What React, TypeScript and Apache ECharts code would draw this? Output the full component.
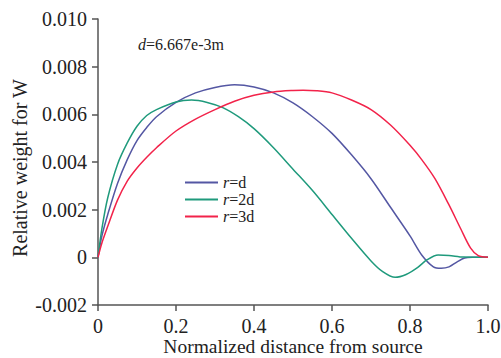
import React, { useEffect, useRef } from "react";
import * as echarts from "echarts";

const seriesNames = ["r=d", "r=2d", "r=3d"];
const seriesColors = ["#5457a3", "#1f9a7c", "#f2234a"];

const rD: [number, number][] = [
  [0, 0], [0.01, 0.0009], [0.025, 0.0018], [0.05, 0.0031], [0.075, 0.0041],
  [0.1, 0.0049], [0.125, 0.00545], [0.15, 0.0059], [0.2, 0.0065], [0.25, 0.0069],
  [0.3, 0.00713], [0.35, 0.00724], [0.4, 0.00715], [0.45, 0.0069], [0.5, 0.00648],
  [0.55, 0.0059], [0.6, 0.0052], [0.65, 0.0043], [0.7, 0.0033], [0.75, 0.0021],
  [0.8, 0.0009], [0.83, 0.0001], [0.86, -0.0004], [0.88, -0.00046], [0.9, -0.0004],
  [0.92, -0.0002], [0.94, -0.00003], [0.96, 0], [1.0, 0],
];

const r2D: [number, number][] = [
  [0, 0], [0.01, 0.0012], [0.025, 0.0025], [0.05, 0.0039], [0.075, 0.0048],
  [0.1, 0.0055], [0.125, 0.00595], [0.15, 0.0062], [0.2, 0.00652], [0.24, 0.0066],
  [0.28, 0.0065], [0.32, 0.00628], [0.36, 0.0059], [0.4, 0.0054], [0.45, 0.0046],
  [0.5, 0.0037], [0.55, 0.0028], [0.6, 0.0018], [0.65, 0.0008], [0.7, -0.00015],
  [0.73, -0.0006], [0.762, -0.00084], [0.79, -0.00072], [0.82, -0.00042], [0.844, -0.0001],
  [0.872, 0.0001], [0.9, 0.00008], [0.937, 0.00001], [1.0, 0],
];

const r3D: [number, number][] = [
  [0, 0], [0.01, 0.0006], [0.025, 0.0013], [0.05, 0.0024], [0.075, 0.0032],
  [0.1, 0.00375], [0.125, 0.0042], [0.15, 0.0046], [0.2, 0.0053], [0.25, 0.0058],
  [0.3, 0.0062], [0.35, 0.00655], [0.4, 0.0068], [0.45, 0.00694], [0.5, 0.007],
  [0.526, 0.00701], [0.56, 0.00699], [0.6, 0.0069], [0.65, 0.0066], [0.7, 0.0062],
  [0.75, 0.00555], [0.8, 0.0047], [0.83, 0.0041], [0.864, 0.0033], [0.9, 0.0022],
  [0.93, 0.0012], [0.955, 0.0004], [0.975, 0.00007], [1.0, 0],
];

const xTickValues = [0, 0.2, 0.4, 0.6, 0.8, 1.0];
const xTickLabels = ["0", "0.2", "0.4", "0.6", "0.8", "1.0"];
const yTickValues = [-0.002, 0, 0.002, 0.004, 0.006, 0.008, 0.01];
const yTickLabels = ["-0.002", "0", "0.002", "0.004", "0.006", "0.008", "0.010"];

const xAxisTitle = "Normalized distance from source";
const yAxisTitle = "Relative weight for W";
const annotation = "6.667e-3m";

const FONT = "Liberation Serif, Times New Roman, serif";

function findLabel(values: number[], labels: string[], v: number) {
  for (let i = 0; i < values.length; i++) {
    if (Math.abs(values[i] - v) < 1e-9) return labels[i];
  }
  return "";
}

export default function App() {
  const ref = useRef<HTMLDivElement>(null);
  useEffect(() => {
    document.body.style.margin = "0";
    const chart = echarts.init(ref.current!, null, { renderer: "svg" });
    const datasets = [rD, r2D, r3D];
    chart.setOption({
      animation: false,
      backgroundColor: "#ffffff",
      textStyle: { fontFamily: FONT },
      grid: {
        left: 98,
        right: 13,
        top: 19,
        bottom: 53,
        containLabel: false,
        outerBoundsMode: "none",
      },
      xAxis: {
        type: "value",
        min: 0,
        max: 1,
        interval: 0.2,
        axisLine: { show: true, onZero: false, lineStyle: { color: "#555", width: 1.5 } },
        axisTick: { show: true, length: 6, lineStyle: { color: "#555", width: 1.5 } },
        axisLabel: {
          margin: 11,
          fontFamily: FONT,
          fontSize: 20,
          color: "#222",
          formatter: (v: number) => findLabel(xTickValues, xTickLabels, v),
        },
        splitLine: { show: false },
      },
      yAxis: {
        type: "value",
        min: -0.002,
        max: 0.01,
        interval: 0.002,
        axisLine: { show: true, lineStyle: { color: "#555", width: 1.5 } },
        axisTick: { show: true, length: 6, lineStyle: { color: "#555", width: 1.5 } },
        axisLabel: {
          margin: 11,
          fontFamily: FONT,
          fontSize: 20,
          color: "#222",
          formatter: (v: number) => findLabel(yTickValues, yTickLabels, v),
        },
        splitLine: { show: false },
      },
      legend: {
        orient: "vertical",
        left: 180,
        top: 169,
        icon: "rect",
        itemWidth: 33,
        itemHeight: 2,
        itemGap: 0,
        data: seriesNames,
        formatter: (name: string) => "{i|r}{n|" + name.slice(1) + "}",
        textStyle: {
          fontFamily: FONT,
          fontSize: 16,
          lineHeight: 17,
          color: "#222",
          rich: {
            i: { fontFamily: FONT, fontStyle: "italic", fontSize: 16, lineHeight: 17, color: "#222" },
            n: { fontFamily: FONT, fontSize: 16, lineHeight: 17, color: "#222" },
          },
        },
      },
      graphic: [
        {
          type: "text",
          left: 138,
          top: 36,
          style: {
            text: "{i|d}{n|=" + annotation + "}",
            rich: {
              i: { fontFamily: FONT, fontStyle: "italic", fontSize: 16, fill: "#222" },
              n: { fontFamily: FONT, fontSize: 16, fill: "#222" },
            },
          },
        },
        {
          type: "text",
          x: 20,
          y: 168,
          rotation: Math.PI / 2,
          style: {
            text: yAxisTitle,
            fontFamily: FONT,
            fontSize: 20,
            fill: "#222",
            align: "center",
            verticalAlign: "middle",
          },
        },
        {
          type: "text",
          x: 293,
          y: 346,
          style: {
            text: xAxisTitle,
            fontFamily: FONT,
            fontSize: 19.5,
            fill: "#222",
            align: "center",
            verticalAlign: "middle",
          },
        },
      ],
      series: datasets.map((d, i) => ({
        name: seriesNames[i],
        type: "line",
        data: d,
        smooth: 0.3,
        symbol: "none",
        color: seriesColors[i],
        lineStyle: { color: seriesColors[i], width: 1.5 },
      })),
    });
    return () => chart.dispose();
  }, []);
  return (
    <div
      ref={ref}
      style={{ position: "absolute", left: 0, top: 0, width: 501, height: 358 }}
    />
  );
}
